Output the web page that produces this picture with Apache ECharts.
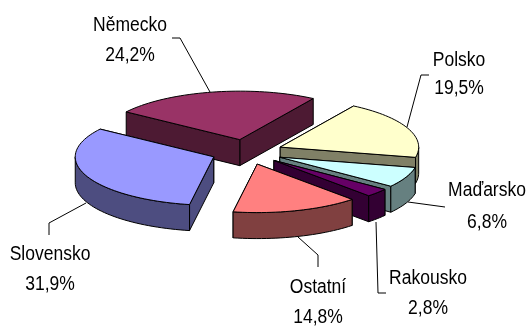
<!DOCTYPE html>
<html><head><meta charset="utf-8">
<style>html,body{margin:0;padding:0;background:#fff}#c{width:530px;height:327px}</style>
<script src="https://cdn.jsdelivr.net/npm/echarts@6/dist/echarts.min.js"></script>
</head><body><div id="c"></div>
<script>
// Data, clockwise from the first slice
var categories = ['Německo','Polsko','Maďarsko','Rakousko','Ostatní','Slovensko'];
var shares = [24.2,19.5,6.8,2.8,14.8,31.9];
var valueLabels = ['24,2%','19,5%','6,8%','2,8%','14,8%','31,9%'];
// Styles
var topColors = ['#993366','#ffffcc','#ccffff','#660066','#ff8080','#9999ff'];
var wallColors = ['#4d1a33','#808066','#668080','#330033','#804040','#4d4d80'];
// Layout
var firstAngle = -55.1, cx = 247, cy = 152, rx = 138.5, ry = 48.5, depth = 26, explode = 0.26;
var drawOrder = [0,5,1,2,3,4];
var nameAt = [[130,25],[459,60],[487,190],[428,278],[318,287],[50,254]];
var valueAt = [[130,55],[459,88],[487,222],[428,308],[318,317],[50,284]];
var leaders = [
  [[172,38],[180,38],[210,92]],
  [[429,75],[421,75],[407,127]],
  [[445,207],[408,202]],
  [[386,293],[378,293],[376,222]],
  [[318,267],[318,255],[298,237]],
  [[49,235],[49,223],[86,203]]
];
var font = '20px "Liberation Sans", Arial, sans-serif';
var textSquash = 0.875;

function pt(c, deg, z) {
  var t = deg * Math.PI / 180;
  return [c[0] + rx * Math.sin(t), c[1] - ry * Math.cos(t) + (z || 0)];
}
function arc(c, a, b, z) {
  var out = [], n = Math.max(2, Math.ceil(Math.abs(b - a) / 2));
  for (var i = 0; i <= n; i++) out.push(pt(c, a + (b - a) * i / n, z));
  return out;
}
function poly(points, fill) {
  return { type: 'polygon', shape: { points: points },
    style: { fill: fill, stroke: '#000', lineWidth: 1, lineJoin: 'round' } };
}
function sliceGroup(start, end, top, wall) {
  var mid = (start + end) / 2 * Math.PI / 180;
  var c = [cx + explode * rx * Math.sin(mid), cy - explode * ry * Math.cos(mid)];
  var kids = [];
  var edges = [pt(c, start), pt(c, end)];
  edges.sort(function (p, q) { return p[1] - q[1]; });
  edges.forEach(function (e) {
    kids.push(poly([c, e, [e[0], e[1] + depth], [c[0], c[1] + depth]], wall));
  });
  [[start, end], [start + 360, end + 360], [start - 360, end - 360]].forEach(function (r) {
    var a = Math.max(r[0], 90), b = Math.min(r[1], 270);
    if (b > a) kids.push(poly(arc(c, a, b, 0).concat(arc(c, b, a, depth)), wall));
  });
  kids.push(poly([c].concat(arc(c, start, end, 0)), top));
  return { type: 'group', children: kids };
}
var total = shares.reduce(function (s, v) { return s + v; }, 0);
var angles = [], run = firstAngle;
shares.forEach(function (v) { angles.push([run, run + v / total * 360]); run += v / total * 360; });

// a custom series paints in data order
var ordered = drawOrder.map(function (i) { return { name: categories[i], value: [i, shares[i]] }; });

var chart = echarts.init(document.getElementById('c'), null, { renderer: 'canvas' });
var overlays = [];
leaders.forEach(function (pts) {
  overlays.push({ type: 'polyline', shape: { points: pts }, silent: true,
    style: { stroke: '#000', lineWidth: 1, fill: null } });
});
function label(text, at) {
  overlays.push({ type: 'text', x: at[0], y: at[1], scaleX: textSquash, silent: true,
    style: { text: text, font: font, fill: '#000', align: 'center', verticalAlign: 'middle' } });
}
categories.forEach(function (n, i) { label(n, nameAt[i]); label(valueLabels[i], valueAt[i]); });
chart.setOption({
  animation: false,
  backgroundColor: '#fff',
  graphic: { elements: overlays },
  series: [{
    type: 'custom',
    coordinateSystem: 'none',
    silent: true,
    data: ordered,
    renderItem: function (params, api) {
      var i = api.value(0);
      return sliceGroup(angles[i][0], angles[i][1], topColors[i], wallColors[i]);
    }
  }]
});
</script></body></html>
